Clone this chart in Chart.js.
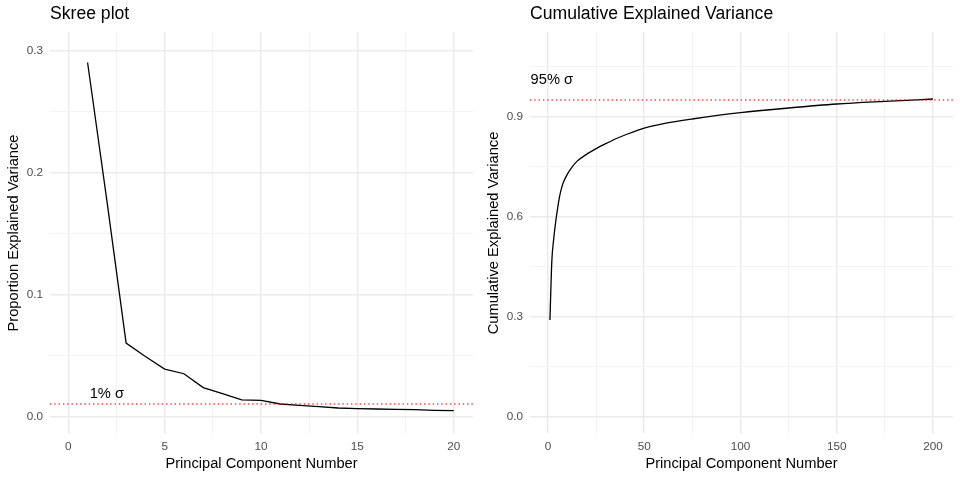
<!DOCTYPE html>
<html>
<head>
<meta charset="utf-8">
<script src="https://cdn.jsdelivr.net/npm/chart.js@4"></script>
<style>
  body { margin: 0; background: #fff; }
  #wrap { display: flex; width: 960px; height: 480px; }
  canvas { display: block; }
</style>
</head>
<body>
<div id="wrap">
  <canvas id="skreeChart" width="480" height="480"></canvas>
  <canvas id="cumChart" width="480" height="480"></canvas>
</div>
<script>
// Skree plot data
var skreePC = [1, 2, 3, 4, 5, 6, 7, 8, 9, 10, 11, 12, 13, 14, 15, 16, 17, 18, 19, 20];
var skreeVariance = [0.290, 0.177, 0.060, 0.049, 0.0387, 0.0349, 0.0235, 0.0186, 0.0134, 0.0131,
                     0.0101, 0.0090, 0.0079, 0.0068, 0.0063, 0.0060, 0.0057, 0.0055, 0.0049, 0.0046];

// Cumulative explained variance, read at selected components
var cumPC = [1, 2, 3, 4, 5, 6, 7, 8, 10, 12, 15, 20, 25, 30, 35, 40, 50, 60, 75, 100, 125, 150, 175, 200];
var cumVariance = [0.290, 0.468, 0.535, 0.585, 0.625, 0.660, 0.685, 0.703, 0.727, 0.745, 0.766, 0.787,
                   0.804, 0.819, 0.833, 0.845, 0.866, 0.879, 0.893, 0.912, 0.926, 0.938, 0.946, 0.953];

// Tick values
var skreeXMajor = [0, 5, 10, 15, 20];
var skreeXMinor = [2.5, 7.5, 12.5, 17.5];
var skreeYMajor = [0, 0.1, 0.2, 0.3];
var skreeYMinor = [0.05, 0.15, 0.25];
var cumXMajor = [0, 50, 100, 150, 200];
var cumXMinor = [25, 75, 125, 175];
var cumYMajor = [0, 0.3, 0.6, 0.9];
var cumYMinor = [0.15, 0.45, 0.75, 1.05];

// Threshold lines
var skreeCutoff = 0.01;
var cumCutoff = 0.95;

var FONT = '"Liberation Sans", Arial, Helvetica, sans-serif';

// draws the dotted red reference line and its label
var refLinePlugin = {
    id: 'refLine',
    afterDatasetsDraw: function (chart, args, opts) {
        var ctx = chart.ctx;
        var area = chart.chartArea;
        var x = chart.scales.x, y = chart.scales.y;
        var py = y.getPixelForValue(opts.value);
        ctx.save();
        ctx.beginPath();
        ctx.rect(area.left, area.top, area.right - area.left, area.bottom - area.top);
        ctx.clip();
        ctx.strokeStyle = 'rgba(255,0,0,0.75)';
        ctx.lineWidth = 1.5;
        ctx.setLineDash([1.4, 2.9]);
        ctx.beginPath();
        ctx.moveTo(area.left, py);
        ctx.lineTo(area.right, py);
        ctx.stroke();
        ctx.restore();

        ctx.save();
        ctx.fillStyle = '#000';
        ctx.font = '14.67px ' + FONT;
        ctx.textAlign = 'center';
        ctx.textBaseline = 'middle';
        ctx.fillText(opts.label, x.getPixelForValue(opts.labelX), y.getPixelForValue(opts.labelY));
        ctx.restore();
    }
};

function makeAxis(major, minor, min, max, titleText, isY, fmt) {
    var all = major.concat(minor).sort(function (a, b) { return a - b; });
    var axis = {
        type: 'linear',
        min: min,
        max: max,
        border: { display: false },
        grid: {
            drawTicks: false,
            color: function (c) {
                return c.tick && major.indexOf(c.tick.value) >= 0 ? '#EBEBEB' : '#F3F3F3';
            },
            lineWidth: function (c) {
                return c.tick && major.indexOf(c.tick.value) >= 0 ? 1.5 : 1;
            }
        },
        afterBuildTicks: function (scale) {
            scale.ticks = all.map(function (v) { return { value: v }; });
        },
        ticks: {
            autoSkip: false,
            maxRotation: 0,
            color: '#4D4D4D',
            font: { family: FONT, size: 11.73 },
            padding: isY ? 7 : 6,
            callback: function (v) {
                return major.indexOf(v) >= 0 ? fmt(v) : '';
            }
        },
        title: {
            display: true,
            text: titleText,
            color: '#000',
            font: { family: FONT, size: 14.67 },
            padding: isY ? { top: 4.7, bottom: 0 } : { top: 0, bottom: 7.2 }
        },
        afterFit: function (scale) {
            if (isY) scale.width = 50; else scale.height = 46;
        }
    };
    return axis;
}

function baseOptions(titleText, xAxis, yAxis, ref) {
    return {
        responsive: false,
        animation: false,
        layout: { padding: { left: 0, right: 7, top: 0, bottom: 0 } },
        plugins: {
            legend: { display: false },
            tooltip: { enabled: false },
            title: {
                display: true,
                text: titleText,
                align: 'start',
                fullSize: false,
                color: '#000',
                font: { family: FONT, size: 17.6, weight: 'normal' },
                padding: { top: 3.3, bottom: 7.6 }
            },
            refLine: ref
        },
        scales: { x: xAxis, y: yAxis }
    };
}

function toPoints(xs, ys) {
    return xs.map(function (v, i) { return { x: v, y: ys[i] }; });
}

new Chart(document.getElementById('skreeChart').getContext('2d'), {
    type: 'line',
    data: {
        datasets: [{
            data: toPoints(skreePC, skreeVariance),
            borderColor: '#000',
            borderWidth: 1.3,
            pointRadius: 0,
            fill: false,
            tension: 0
        }]
    },
    options: baseOptions('Skree plot',
        makeAxis(skreeXMajor, skreeXMinor, -0.95, 21.0, 'Principal Component Number', false, function (v) { return String(v); }),
        makeAxis(skreeYMajor, skreeYMinor, -0.0145, 0.315, 'Proportion Explained Variance', true, function (v) { return v.toFixed(1); }),
        { value: skreeCutoff, label: '1% σ', labelX: 2, labelY: 0.0185 }),
    plugins: [refLinePlugin]
});

new Chart(document.getElementById('cumChart').getContext('2d'), {
    type: 'line',
    data: {
        datasets: [{
            data: toPoints(cumPC, cumVariance),
            borderColor: '#000',
            borderWidth: 1.3,
            pointRadius: 0,
            fill: false,
            cubicInterpolationMode: 'monotone'
        }]
    },
    options: baseOptions('Cumulative Explained Variance',
        makeAxis(cumXMajor, cumXMinor, -9.35, 210.4, 'Principal Component Number', false, function (v) { return String(v); }),
        makeAxis(cumYMajor, cumYMinor, -0.052, 1.154, 'Cumulative Explained Variance', true, function (v) { return v.toFixed(1); }),
        { value: cumCutoff, label: '95% σ', labelX: 2, labelY: 1.01 }),
    plugins: [refLinePlugin]
});
</script>
</body>
</html>
